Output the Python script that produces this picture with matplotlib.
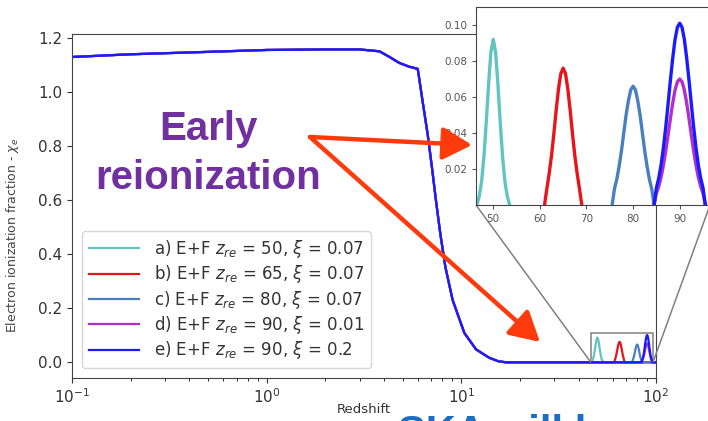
import matplotlib
matplotlib.use("Agg")
import matplotlib.pyplot as plt
from matplotlib.patches import FancyArrowPatch
from mpl_toolkits.axes_grid1.inset_locator import mark_inset

# shared low-redshift part of x_e (all models coincide here)
z_low = [0.1, 0.2, 0.5, 1.0, 2.0, 3.0, 3.8, 4.3, 4.8, 5.4, 5.97, 6.08, 6.33,
         6.72, 7.07, 7.41, 7.80, 8.28, 9.02, 10.36, 11.9, 13.9, 15.5, 17.0]
xe_low = [1.131, 1.141, 1.150, 1.157, 1.159, 1.159, 1.152, 1.130, 1.109, 1.095,
          1.087, 1.050, 0.965, 0.843, 0.720, 0.598, 0.476, 0.353, 0.231, 0.109,
          0.048, 0.017, 0.004, 0.0]

# early reionization bumps
z_a = [46.5, 47, 47.5, 48, 48.5, 49, 49.5, 50, 50.5, 51, 51.5, 52, 52.5, 53, 53.5]
xe_a = [0.0, 0.005, 0.013, 0.027, 0.046, 0.067, 0.085, 0.092, 0.085, 0.067,
        0.046, 0.027, 0.013, 0.005, 0.0]

z_b = [61, 61.5, 62, 62.5, 63, 63.5, 64, 64.5, 65, 65.5, 66, 66.5, 67, 67.5,
       68, 68.5, 69]
xe_b = [0.0, 0.009, 0.0175, 0.0274, 0.0396, 0.0527, 0.0645, 0.073, 0.076, 0.073,
        0.0645, 0.0527, 0.0396, 0.0274, 0.0175, 0.009, 0.0]

z_c = [75.5, 76, 76.5, 77, 77.5, 78, 78.5, 79, 79.5, 80, 80.5, 81, 81.5, 82,
       82.5, 83, 83.5, 84, 84.5]
xe_c = [0.0, 0.0089, 0.0143, 0.0214, 0.030, 0.040, 0.050, 0.058, 0.064, 0.066,
        0.064, 0.058, 0.050, 0.040, 0.030, 0.0214, 0.0143, 0.0089, 0.0]

z_d = [84.5, 85, 85.5, 86, 86.5, 87, 87.5, 88, 88.5, 89, 89.5, 90, 90.5, 91,
       91.5, 92, 92.5, 93, 93.5, 94, 94.5, 95, 95.5]
xe_d = [0.0, 0.0066, 0.0103, 0.0154, 0.022, 0.0299, 0.0388, 0.048, 0.0566,
        0.0638, 0.0684, 0.070, 0.0684, 0.0638, 0.0566, 0.048, 0.0388, 0.0299,
        0.022, 0.0154, 0.0103, 0.0066, 0.0]

z_e = [84.5, 85, 85.5, 86, 86.5, 87, 87.5, 88, 88.5, 89, 89.5, 90, 90.5, 91,
       91.5, 92, 92.5, 93, 93.5, 94, 94.5, 95, 95.5]
xe_e = [0.0, 0.0095, 0.0149, 0.0222, 0.0317, 0.0431, 0.056, 0.0692, 0.0816,
        0.092, 0.0987, 0.101, 0.0987, 0.092, 0.0816, 0.0692, 0.056, 0.0431,
        0.0317, 0.0222, 0.0149, 0.0095, 0.0]

labels = [r'a) E+F $z_{re}$ = 50, $\xi$ = 0.07',
          r'b) E+F $z_{re}$ = 65, $\xi$ = 0.07',
          r'c) E+F $z_{re}$ = 80, $\xi$ = 0.07',
          r'd) E+F $z_{re}$ = 90, $\xi$ = 0.01',
          r'e) E+F $z_{re}$ = 90, $\xi$ = 0.2']
colors = ['#62c4c0', '#e8141c', '#4a7fbf', '#b030c8', '#1a1aff']
bumps = [(z_a, xe_a), (z_b, xe_b), (z_c, xe_c), (z_d, xe_d), (z_e, xe_e)]

W, H = 708, 421
fig = plt.figure(figsize=(W / 100, H / 100), dpi=100)
ax = fig.add_axes([72 / W, 1 - 378 / H, 584 / W, 344.5 / H])

for (zb, xb), c, lab in zip(bumps, colors, labels):
    zz = z_low + zb + [100]
    xx = xe_low + xb + [0.0]
    ax.plot(zz, xx, color=c, lw=1.6, label=lab)

ax.set_xscale('log')
ax.set_xlim(0.1, 100)
ax.set_ylim(-0.058, 1.218)
ax.set_yticks([0.0, 0.2, 0.4, 0.6, 0.8, 1.0, 1.2])
ax.tick_params(labelsize=11, colors='#333333')
for s in ax.spines.values():
    s.set_color('#444444')
ax.set_xlabel('Redshift', fontsize=9.5, color='#333333')
ax.set_ylabel(r'Electron ionization fraction - $\chi_e$', fontsize=9, color='#444444')
ax.yaxis.set_label_coords(-0.087, 0.415)
ax.xaxis.set_label_coords(0.5, -0.072)
leg = ax.legend(loc='lower left', fontsize=12, handlelength=3.0,
                labelspacing=0.2, borderaxespad=0.6, handletextpad=0.9)
for t in leg.get_texts():
    t.set_color('#333333')

# zoomed inset
axins = fig.add_axes([476 / W, 1 - 205 / H, 234 / W, 198 / H])
for (zb, xb), c in zip(bumps, colors):
    axins.plot(zb, xb, color=c, lw=2.4)
axins.set_xlim(46.3, 96.5)
axins.set_ylim(0, 0.11)
axins.set_yticks([0.02, 0.04, 0.06, 0.08, 0.10])
axins.set_xticks([50, 60, 70, 80, 90])
axins.tick_params(labelsize=7.5, colors='#555555', length=3)
for s in axins.spines.values():
    s.set_color('#444444')
mark_inset(ax, axins, loc1=3, loc2=4, fc='none', ec='0.5', lw=1.1)

# slide annotations
fig.text(208 / W, 1 - 140 / H, 'Early', ha='center', va='baseline',
         fontsize=29, fontweight='bold', color='#7030a0', family='Liberation Sans')
fig.text(208 / W, 1 - 189 / H, 'reionization', ha='center', va='baseline',
         fontsize=29, fontweight='bold', color='#7030a0', family='Liberation Sans')
fig.text(398 / W, 1 - 445 / H, 'SKA will be', ha='left', va='baseline',
         fontsize=30, fontweight='bold', color='#1a6fc4', family='Liberation Sans')

start = (310 / W, 1 - 137 / H)
for tip in [(472 / W, 1 - 145 / H), (540 / W, 1 - 342 / H)]:
    arr = FancyArrowPatch(start, tip, transform=fig.transFigure,
                          arrowstyle='-|>,head_length=0.45,head_width=0.25',
                          mutation_scale=40, color='#ff3a0c', lw=3.2,
                          shrinkA=0, shrinkB=0, zorder=10)
    fig.add_artist(arr)

fig.savefig('out.png', dpi=100)
